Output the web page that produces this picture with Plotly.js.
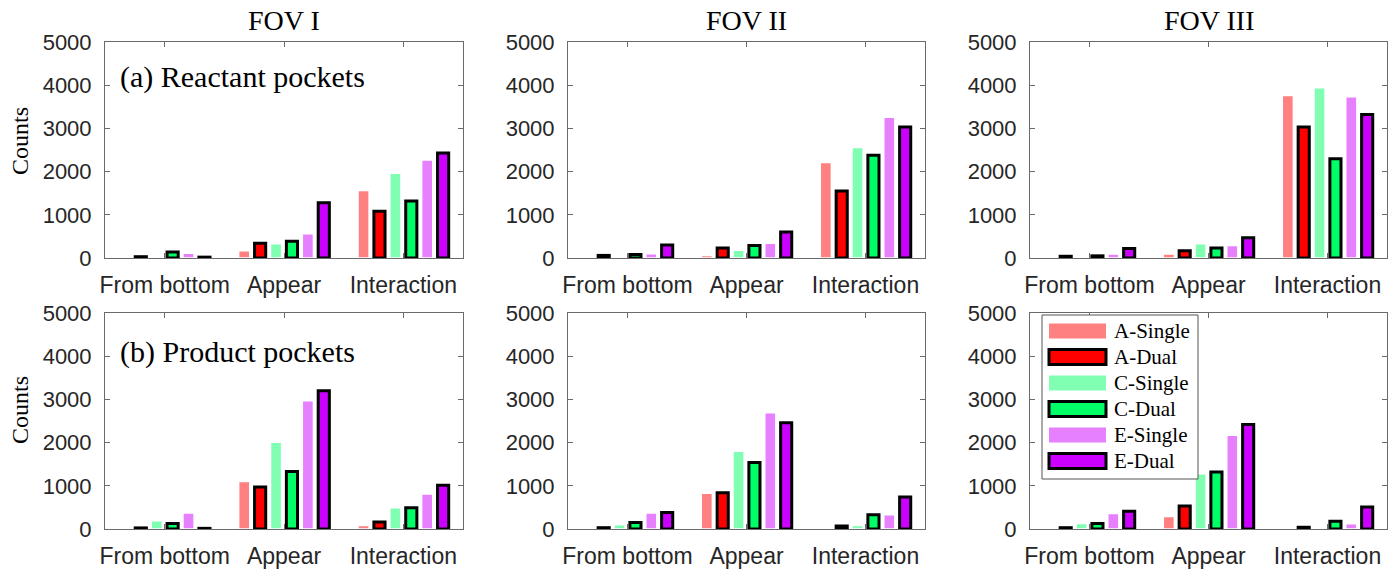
<!DOCTYPE html>
<html>
<head>
<meta charset="utf-8">
<script src="https://cdn.plot.ly/plotly-3.0.1.min.js"></script>
<style>
  html, body { margin: 0; padding: 0; background: #ffffff; }
  #chart { width: 1399px; height: 571px; }
</style>
</head>
<body>
<div id="chart"></div>
<script>
// ---------------- data ----------------
const categories = ['From bottom', 'Appear', 'Interaction'];
const seriesNames = ['A-Single', 'A-Dual', 'C-Single', 'C-Dual', 'E-Single', 'E-Dual'];
const seriesColors = ['#ff8080', '#ff0000', '#80ffb3', '#00ff66', '#e680ff', '#cc00ff'];
const seriesIsDual = [false, true, false, true, false, true];
const fovTitles = ['FOV I', 'FOV II', 'FOV III'];
const rowLabels = ['(a) Reactant pockets', '(b) Product pockets'];

// rows follow seriesNames order, columns follow categories order
const reactantFOV1 = [
  [0, 170, 1560],
  [30, 340, 1080],
  [30, 330, 1960],
  [140, 390, 1320],
  [110, 560, 2270],
  [20, 1280, 2430]
];
const reactantFOV2 = [
  [0, 60, 2210],
  [60, 230, 1550],
  [0, 180, 2560],
  [80, 290, 2380],
  [100, 340, 3260],
  [300, 600, 3030]
];
const reactantFOV3 = [
  [0, 90, 3760],
  [40, 170, 3030],
  [0, 330, 3940],
  [50, 230, 2300],
  [90, 290, 3730],
  [220, 470, 3320]
];
const productFOV1 = [
  [0, 1100, 80],
  [25, 970, 160],
  [190, 2010, 490],
  [130, 1330, 490],
  [370, 2970, 810],
  [15, 3200, 1010]
];
const productFOV2 = [
  [0, 830, 0],
  [30, 840, 70],
  [100, 1800, 80],
  [150, 1540, 330],
  [370, 2690, 330],
  [380, 2460, 740]
];
const productFOV3 = [
  [0, 290, 0],
  [30, 530, 40],
  [130, 1280, 0],
  [130, 1320, 180],
  [360, 2170, 120],
  [410, 2420, 510]
];

const panels = [reactantFOV1, reactantFOV2, reactantFOV3, productFOV1, productFOV2, productFOV3];
const yTicks = [0, 1000, 2000, 3000, 4000, 5000];

// ---------------- layout geometry (pixels) ----------------
const W = 1399, H = 571;
const colPx = [[105, 463], [568, 925], [1030, 1387]];
const rowPx = [[42, 258], [313, 529]];

const SANS = 'Liberation Sans, Arial, sans-serif';
const SERIF = 'Liberation Serif, Times New Roman, serif';
const TXT = '#262626';
const AX = '#6a6a6a';

const layout = {
  width: W, height: H,
  margin: {l: 0, r: 0, t: 0, b: 0},
  paper_bgcolor: '#ffffff',
  plot_bgcolor: '#ffffff',
  showlegend: false,
  barmode: 'group',
  bargap: 0.2,
  bargroupgap: 0.3,
  annotations: [],
  shapes: []
};

const traces = [];

for (let p = 0; p < 6; p++) {
  const row = Math.floor(p / 3), col = p % 3;
  const id = p + 1;
  const xk = 'xaxis' + (id === 1 ? '' : id);
  const yk = 'yaxis' + (id === 1 ? '' : id);
  const xr = 'x' + (id === 1 ? '' : id);
  const yr = 'y' + (id === 1 ? '' : id);

  layout[xk] = {
    domain: [colPx[col][0] / W, colPx[col][1] / W],
    anchor: yr,
    type: 'category',
    categoryorder: 'array',
    categoryarray: categories,
    range: [-0.5, 2.5],
    ticks: 'inside', ticklen: 5, tickwidth: 1, tickcolor: AX,
    showline: true, linecolor: AX, linewidth: 1, mirror: 'ticks',
    showgrid: false, zeroline: false,
    tickfont: {family: SANS, size: 23, color: TXT},
    ticklabelstandoff: 6,
    fixedrange: true
  };
  layout[yk] = {
    domain: [1 - rowPx[row][1] / H, 1 - rowPx[row][0] / H],
    anchor: xr,
    range: [0, 5000],
    tickvals: yTicks,
    ticktext: yTicks.map(String),
    ticks: 'inside', ticklen: 5, tickwidth: 1, tickcolor: AX,
    showline: true, linecolor: AX, linewidth: 1, mirror: 'ticks',
    showgrid: false, zeroline: false,
    tickfont: {family: SANS, size: 22, color: TXT},
    ticklabelstandoff: 8,
    fixedrange: true
  };

  const data = panels[p];
  for (let s = 0; s < seriesNames.length; s++) {
    traces.push({
      type: 'bar',
      name: seriesNames[s],
      x: categories,
      y: data[s],
      xaxis: xr, yaxis: yr,
      marker: {
        color: seriesColors[s],
        line: {color: seriesIsDual[s] ? '#000000' : '#ffffff', width: seriesIsDual[s] ? 3 : 1.5}
      },
      hoverinfo: 'skip'
    });
  }

  // column titles
  if (row === 0) {
    layout.annotations.push({
      text: fovTitles[col], showarrow: false,
      xref: xr + ' domain', yref: yr + ' domain',
      x: 0.5, y: 1, xanchor: 'center', yanchor: 'bottom', yshift: 4,
      font: {family: SERIF, size: 28, color: '#000000'}
    });
  }
  // row labels
  if (col === 0) {
    layout.annotations.push({
      text: rowLabels[row], showarrow: false,
      xref: xr + ' domain', yref: yr + ' domain',
      x: 13 / (colPx[0][1] - colPx[0][0]), y: row === 0 ? 0.838 : 0.819,
      xanchor: 'left', yanchor: 'middle',
      font: {family: SERIF, size: 30, color: '#000000'}
    });
    layout.annotations.push({
      text: 'Counts', showarrow: false, textangle: -90,
      xref: 'paper', yref: 'paper',
      x: 20 / W, y: 1 - (row === 0 ? 141 : 410) / H,
      xanchor: 'center', yanchor: 'middle',
      font: {family: SERIF, size: 24, color: '#000000'}
    });
  }
}

// ---------------- legend (drawn in panel 6) ----------------
const lx0 = colPx[2][0], lw = colPx[2][1] - colPx[2][0];
const ly1 = rowPx[1][1], lh = rowPx[1][1] - rowPx[1][0];
const dx = px => (px - lx0) / lw;
const dy = px => (ly1 - px) / lh;

layout.shapes.push({
  type: 'rect', xref: 'x6 domain', yref: 'y6 domain', layer: 'above',
  x0: dx(1042), x1: dx(1198), y0: dy(479), y1: dy(315),
  fillcolor: '#ffffff', line: {color: '#555555', width: 1}
});
const entryY = [331, 357, 383, 409, 435, 461];
for (let s = 0; s < seriesNames.length; s++) {
  const cy = entryY[s];
  layout.shapes.push({
    type: 'rect', xref: 'x6 domain', yref: 'y6 domain', layer: 'above',
    x0: dx(1049), x1: dx(1106), y0: dy(cy + 7.5), y1: dy(cy - 7.5),
    fillcolor: seriesColors[s],
    line: {color: seriesIsDual[s] ? '#000000' : seriesColors[s], width: seriesIsDual[s] ? 3 : 0}
  });
  layout.annotations.push({
    text: seriesNames[s], showarrow: false,
    xref: 'x6 domain', yref: 'y6 domain',
    x: dx(1112), y: dy(cy), xanchor: 'left', yanchor: 'middle',
    font: {family: SERIF, size: 21, color: '#000000'}
  });
}

Plotly.newPlot('chart', traces, layout, {displayModeBar: false, staticPlot: true});
</script>
</body>
</html>
